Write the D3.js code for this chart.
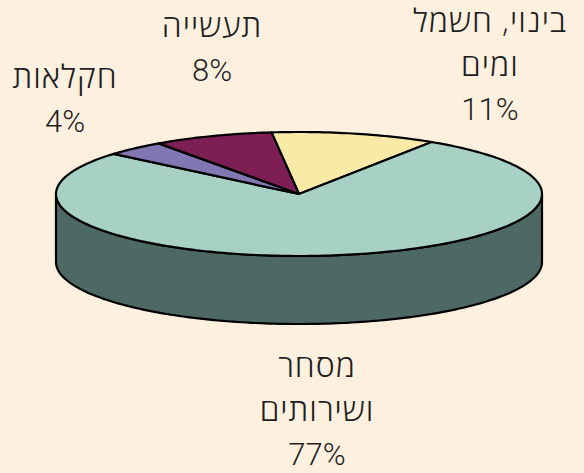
<!DOCTYPE html>
<html>
<head>
<meta charset="utf-8">
<script src="https://cdn.jsdelivr.net/npm/d3@7"></script>
<style>
  body { margin: 0; background: #FDF0DF; }
  text { font-family: Roboto, "Liberation Sans", sans-serif; font-weight: 300; fill: #1e1e1e; }
  tspan.he { font-family: "Open Sans", "Liberation Sans", sans-serif; font-weight: 300; letter-spacing: 1px; font-size: 32px; }
</style>
</head>
<body>
<div id="chart"></div>
<script>
// data (Excel order, clockwise from top)
const categories = [["בינוי, חשמל", "ומים"], ["מסחר", "ושירותים"], ["חקלאות"], ["תעשייה"]];
const values = [11, 77, 4, 8];
const labels = ["11%", "77%", "4%", "8%"];
const topColors = ["#FAEAA8", "#A8D1C6", "#8177B3", "#7D1F54"];
const sideColors = ["#B5A972", "#4E6963", "#5A5480", "#56163A"];

const width = 584, height = 473;
const cx = 299, cy = 194, rx = 243, ry = 62, depth = 68;

// where Excel put the labels, relative to the pie centre
const labelOffset = [[191, -162], [18, 183], [-234, -106], [-87, -157]];
const lineGap = 44;

const svg = d3.select("#chart")
  .append("svg")
  .attr("width", width)
  .attr("height", height);

svg.append("rect")
  .attr("width", width)
  .attr("height", height)
  .attr("fill", "#FDF0DF");

const pie = d3.pie()
  .sort(null)
  .startAngle(-6.5 * Math.PI / 180)
  .endAngle(2 * Math.PI - 6.5 * Math.PI / 180);

const arcs = pie(values);

// projection of the tilted disc
const px = d3.scaleLinear().domain([-1, 1]).range([cx - rx, cx + rx]);
const py = d3.scaleLinear().domain([-1, 1]).range([cy + ry, cy - ry]);

function rim(a0, a1, dy) {
  const n = Math.max(2, Math.ceil((a1 - a0) / 0.02));
  return d3.range(n + 1).map(i => {
    const a = a0 + (a1 - a0) * i / n;
    return [px(Math.sin(a)), py(Math.cos(a)) + dy];
  });
}

const line = d3.line();

// front walls
arcs.forEach((d, i) => {
  [0, 2 * Math.PI].forEach(shift => {
    const a0 = Math.max(d.startAngle + shift, Math.PI / 2);
    const a1 = Math.min(d.endAngle + shift, 3 * Math.PI / 2);
    if (a1 <= a0) return;
    const top = rim(a0, a1, 0);
    const bottom = rim(a0, a1, depth).reverse();
    svg.append("path")
      .attr("d", line(top.concat(bottom)) + "Z")
      .attr("fill", sideColors[i])
      .attr("stroke", "#000")
      .attr("stroke-width", 2.2)
      .attr("stroke-linejoin", "round");
  });
});

// top faces
arcs.forEach((d, i) => {
  const pts = [[cx, cy]].concat(rim(d.startAngle, d.endAngle, 0));
  svg.append("path")
    .attr("d", line(pts) + "Z")
    .attr("fill", topColors[i])
    .attr("stroke", "#000")
    .attr("stroke-width", 2.2)
    .attr("stroke-linejoin", "round");
});

// data labels
arcs.forEach((d, i) => {
  const lines = categories[i].concat([labels[i]]);
  const g = svg.append("text")
    .attr("text-anchor", "middle")
    .attr("font-size", 31)
    .attr("x", cx + labelOffset[i][0])
    .attr("y", cy + labelOffset[i][1]);
  lines.forEach((t, j) => {
    g.append("tspan")
      .attr("class", j < lines.length - 1 ? "he" : null)
      .attr("x", cx + labelOffset[i][0])
      .attr("dy", j === 0 ? 0 : lineGap)
      .text(t);
  });
});
</script>
</body>
</html>
